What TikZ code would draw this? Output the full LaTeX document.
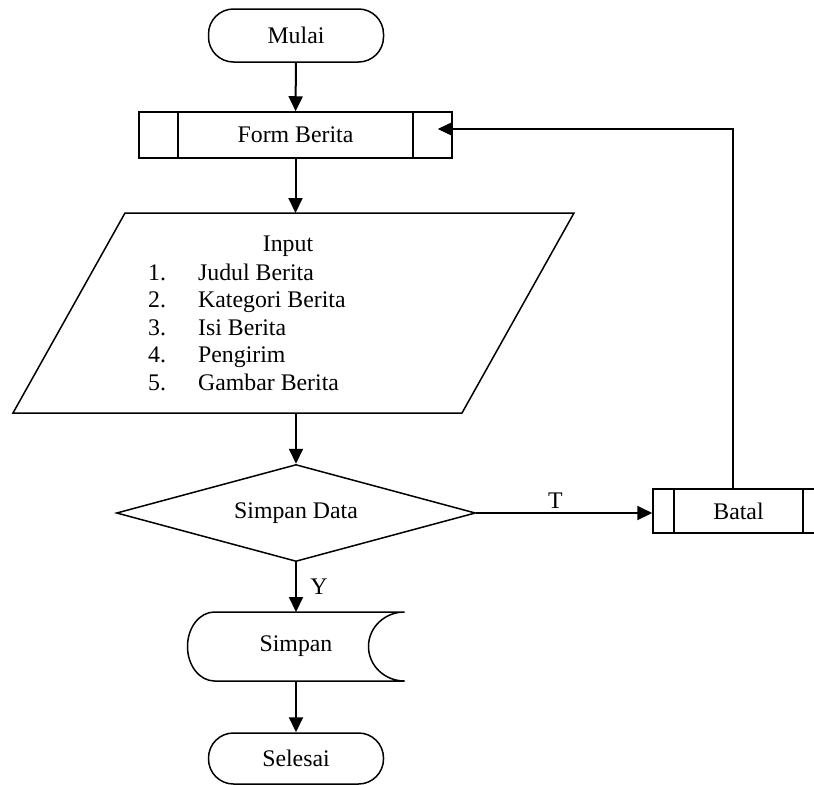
\documentclass[tikz,border=0pt]{standalone}
\usepackage{fontspec}
\setmainfont{Liberation Serif}
\usetikzlibrary{arrows.meta,shapes.geometric}

\tikzset{
  txt/.style={font=\fontsize{23.8bp}{27.5bp}\selectfont},
  base/.style={txt,draw,line width=1.5bp},
  term/.style={base,rectangle,rounded corners=25bp,minimum width=175bp,minimum height=53bp},
  subproc/.style={base,rectangle,minimum height=46bp,path picture={
    \draw[line width=1.5bp] ([xshift=#1]path picture bounding box.north west) -- ([xshift=#1]path picture bounding box.south west);
    \draw[line width=1.5bp] ([xshift=-#1]path picture bounding box.north east) -- ([xshift=-#1]path picture bounding box.south east);}},
  io/.style={txt,rectangle,outer sep=0pt,minimum width=449bp,minimum height=200bp},
  decide/.style={base,diamond,aspect=3.7,inner sep=1pt,minimum width=359bp,minimum height=97bp},
  store/.style={txt,rectangle,outer sep=0pt,minimum width=217bp,minimum height=69bp},
}

\begin{document}
\begin{tikzpicture}[>={Triangle[length=15bp,width=14bp]}]
    \clip (0,0) rectangle (814bp,-785bp);
    \node (mulai) at (296bp,-35.5bp) [term] {Mulai};
    \node (form) at (295.5bp,-135bp) [subproc=39bp,minimum width=313bp] {Form Berita};
    \node (inp) at (293.5bp,-313bp) [io] {};
    \node (inptitle) at (288bp,-251bp) [txt,anchor=base] {Input};
    \node (inplist) at (148bp,-280bp) [txt,anchor=base west,inner sep=0pt] {\begin{tabular}[t]{@{}p{50bp}@{}l@{}}
        1. & Judul Berita\\
        2. & Kategori Berita\\
        3. & Isi Berita\\
        4. & Pengirim\\
        5. & Gambar Berita
      \end{tabular}};
    \node (dec) at (296bp,-513bp) [decide] {Simpan Data};
    \node (batal) at (738.5bp,-511bp) [subproc=21bp,minimum width=171bp,minimum height=44bp] {Batal};
    \node (simpan) at (296bp,-646.5bp) [store] {Simpan};
    \node (selesai) at (296bp,-758.5bp) [term,minimum height=51bp] {Selesai};
    % input parallelogram
    \draw [line width=1.5bp] ([xshift=56bp]inp.north west) -- ([xshift=56bp]inp.north east)
      -- ([xshift=-56bp]inp.south east) -- ([xshift=-56bp]inp.south west) -- cycle;
    % stored data outline
    \draw [line width=1.5bp] ([xshift=27bp]simpan.north west) arc[start angle=90,end angle=270,x radius=27bp,y radius=34.5bp]
      -- (simpan.south east) arc[start angle=270,end angle=90,x radius=36bp,y radius=34.5bp] -- cycle;
    \draw [->,line width=2bp] (mulai) to (form);
    \draw [->,line width=2bp] (form) to (form.south |- inp.north);
    \draw [->,line width=2bp] (inp.south -| dec) to (dec);
    \draw [->,line width=2bp] (dec) to node[txt,above,pos=0.45] {T} (dec -| batal.west);
    \draw [->,line width=2bp] (dec) to node[txt,right,xshift=10bp] {Y} (simpan);
    \draw [->,line width=2bp] (simpan) to (selesai);
    \draw [->,line width=1.3bp,shorten >=-15bp] ([xshift=-5.5bp]batal.north) |- ([yshift=6bp]form.east);
\end{tikzpicture}
\end{document}
